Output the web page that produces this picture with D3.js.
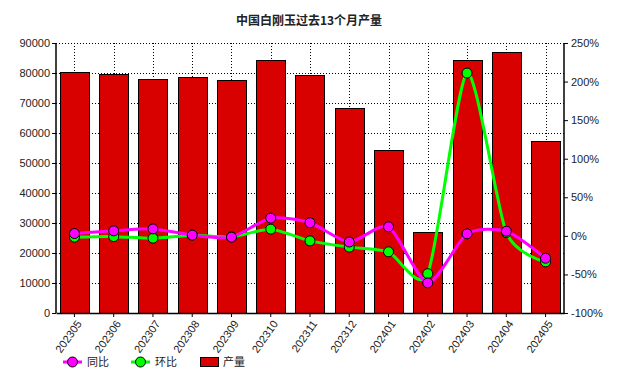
<!DOCTYPE html>
<html>
<head>
<meta charset="utf-8">
<script src="https://cdn.jsdelivr.net/npm/d3@7"></script>
<style>
  body { margin: 0; background: #fff; }
  text { font-family: "Liberation Sans", Arial, sans-serif; }
  .cjk { font-family: "Noto Sans CJK SC", sans-serif; }
</style>
</head>
<body>
<div id="container"></div>
<script>
const months = ["202305","202306","202307","202308","202309","202310","202311",
                "202312","202401","202402","202403","202404","202405"];
const output = [80300, 79700, 78000, 78700, 77700, 84300, 79300,
                68300, 54300, 27000, 84300, 87000, 57300];
const yoy = [3, 6.5, 9, 1, -1.7, 23, 17, -8, 11.7, -61, 2.6, 6, -29];
const mom = [-1.7, -1, -3, 0.9, -1.3, 8.7, -6.5, -14.6, -20.7, -49, 211, 4.3, -33.7];
const leftTicks = [0, 10000, 20000, 30000, 40000, 50000, 60000, 70000, 80000, 90000];
const rightTicks = [-100, -50, 0, 50, 100, 150, 200, 250];

const WIDTH = 619, HEIGHT = 377;
const margin = { top: 43, bottom: 64, left: 56, right: 55 };
const width = WIDTH - margin.left - margin.right,
      height = HEIGHT - margin.top - margin.bottom;

const svg = d3.select('#container').append('svg')
    .attr("width", WIDTH).attr("height", HEIGHT);

const g = svg.append('g').attr("transform", `translate(${margin.left},${margin.top})`);

const xScale = d3.scaleBand().domain(months).range([0, width]).paddingInner(0.26).paddingOuter(0.1);
const xCenter = (d) => xScale(d) + xScale.bandwidth() / 2;
const yScale = d3.scaleLinear().domain([0, 90000]).range([height, 0]);
const pScale = d3.scaleLinear().domain([-100, 250]).range([height, 0]);

// grid
g.selectAll(".hgrid").data(leftTicks.slice(1)).join("line")
    .attr("x1", 0).attr("x2", width)
    .attr("y1", d => Math.round(yScale(d)) + 0.5).attr("y2", d => Math.round(yScale(d)) + 0.5)
    .attr("stroke", "#000").attr("stroke-dasharray", "1,2");
g.selectAll(".vgrid").data(months).join("line")
    .attr("x1", d => Math.round(xCenter(d)) + 0.5).attr("x2", d => Math.round(xCenter(d)) + 0.5)
    .attr("y1", 0).attr("y2", height)
    .attr("stroke", "#000").attr("stroke-dasharray", "1,2");

// bars
g.selectAll(".bar").data(output).join("rect")
    .attr("x", (d, i) => Math.round(xScale(months[i])) + 0.5)
    .attr("y", d => Math.round(yScale(d)) + 0.5)
    .attr("width", Math.round(xScale.bandwidth()))
    .attr("height", d => height - Math.round(yScale(d)))
    .attr("fill", "#d90000").attr("stroke", "#000").attr("stroke-width", 1);

// axes
const leftAxis = g.append("g").call(d3.axisLeft(yScale).tickValues(leftTicks).tickSize(4).tickPadding(2).tickFormat(d3.format("d")));
const rightAxis = g.append("g").attr("transform", `translate(${width},0)`)
    .call(d3.axisRight(pScale).tickValues(rightTicks).tickSize(4).tickPadding(3).tickFormat(d => d + "%"));
const bottomAxis = g.append("g").attr("transform", `translate(0,${height})`)
    .call(d3.axisBottom(xScale).tickSize(4).tickSizeOuter(0));
[leftAxis, rightAxis, bottomAxis].forEach(a => {
    a.selectAll("path").attr("stroke", "#000").attr("stroke-width", 1.5);
    a.selectAll("text").attr("fill", "#222").style("font-size", "11px")
        .style("font-family", "'Liberation Sans', Arial, sans-serif");
});
leftAxis.select("path").attr("d", `M0,${height}V0`);
rightAxis.select("path").attr("d", `M0,${height}V0`);
bottomAxis.selectAll("text")
    .attr("transform", "rotate(-55)")
    .attr("text-anchor", "end")
    .attr("dx", "-0.4em").attr("dy", "0.5em");

// lines
const drawSeries = (vals, color) => {
    const line = d3.line()
        .x((d, i) => xCenter(months[i]))
        .y(d => pScale(d))
        .curve(d3.curveCardinal.tension(0.3));
    g.append("path").datum(vals)
        .attr("d", line).attr("fill", "none")
        .attr("stroke", color).attr("stroke-width", 3);
    g.append("g").selectAll("circle").data(vals).join("circle")
        .attr("cx", (d, i) => xCenter(months[i]))
        .attr("cy", d => pScale(d))
        .attr("r", 5).attr("fill", color).attr("stroke", "#000").attr("stroke-width", 1);
};
drawSeries(mom, "#00ff00");
drawSeries(yoy, "#ff00ff");

// title
svg.append("text").attr("class", "cjk")
    .attr("x", 309).attr("y", 25).attr("text-anchor", "middle")
    .style("font-size", "12px").style("font-weight", "bold").attr("fill", "#222")
    .text("中国白刚玉过去13个月产量");

// legend
const legend = svg.append("g").attr("transform", "translate(0,362)");
const legItems = [
    { label: "同比", color: "#ff00ff", x: 63, type: "line" },
    { label: "环比", color: "#00ff00", x: 131, type: "line" },
    { label: "产量", color: "#d90000", x: 200, type: "rect" }
];
legItems.forEach(it => {
    if (it.type === "line") {
        legend.append("line").attr("x1", it.x).attr("x2", it.x + 19).attr("y1", 0).attr("y2", 0)
            .attr("stroke", it.color).attr("stroke-width", 3);
        legend.append("circle").attr("cx", it.x + 9.5).attr("cy", 0).attr("r", 5)
            .attr("fill", it.color).attr("stroke", "#000");
        legend.append("text").attr("class", "cjk").attr("x", it.x + 24).attr("y", 4)
            .style("font-size", "11px").attr("fill", "#222").text(it.label);
    } else {
        legend.append("rect").attr("x", it.x + 0.5).attr("y", -4.5).attr("width", 18).attr("height", 9)
            .attr("fill", it.color).attr("stroke", "#000");
        legend.append("text").attr("class", "cjk").attr("x", it.x + 23).attr("y", 4)
            .style("font-size", "11px").attr("fill", "#222").text(it.label);
    }
});
</script>
</body>
</html>
